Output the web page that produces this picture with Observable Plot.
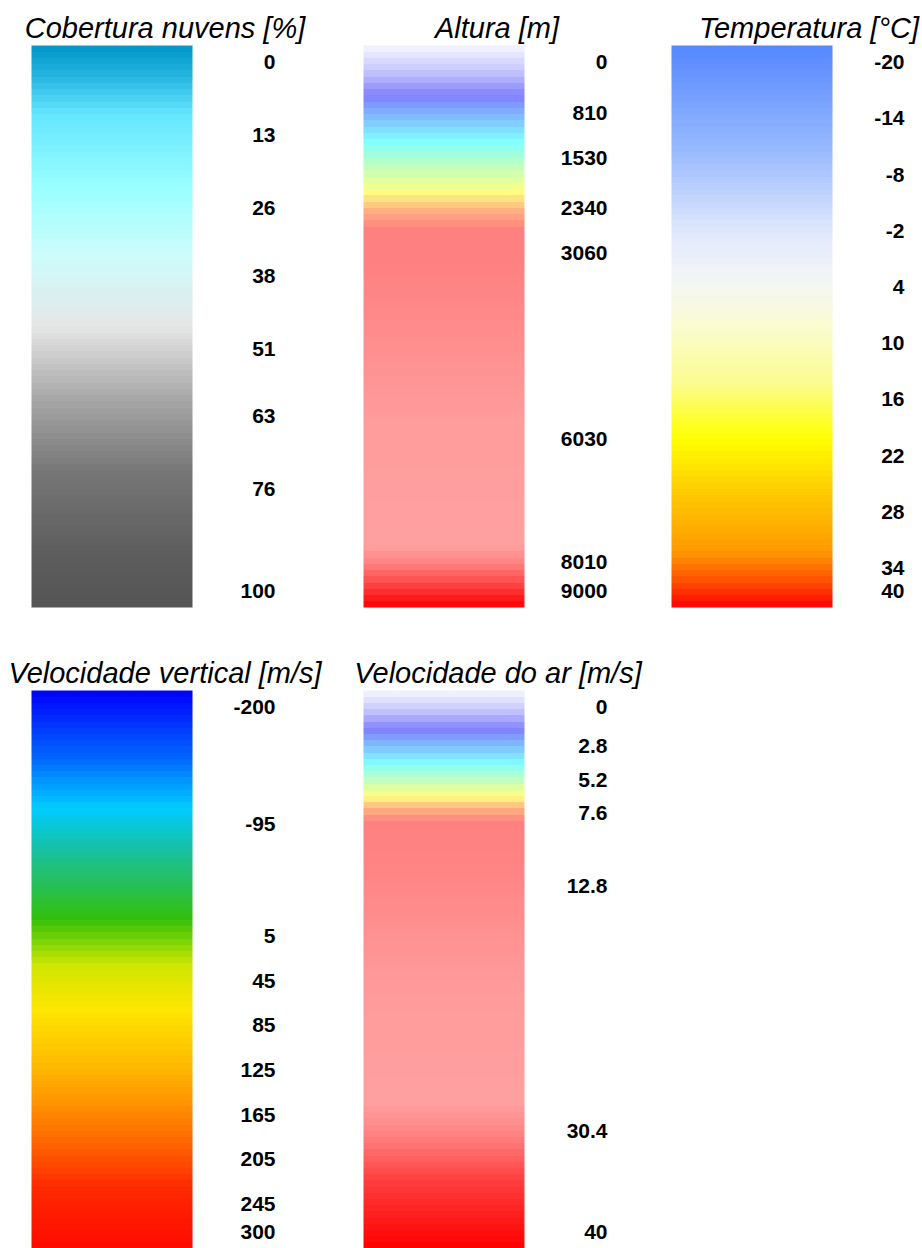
<!DOCTYPE html>
<html><head><meta charset="utf-8">
<script src="https://cdn.jsdelivr.net/npm/d3@7"></script>
<script src="https://cdn.jsdelivr.net/npm/@observablehq/plot@0.6"></script>
<style>
html,body{margin:0;padding:0;background:#fff}
body{width:922px;height:1248px;overflow:hidden;position:relative;font-family:"Liberation Sans",Arial,Helvetica,sans-serif}
.panel{position:absolute}
.panel svg{max-width:none !important;display:block}
.title{position:absolute;font-style:italic;font-size:29px;line-height:29px;white-space:nowrap;color:#000}
</style></head><body>
<script>
// ---------- data ----------
const titles = ["Cobertura nuvens [%]", "Altura [m]", "Temperatura [°C]", "Velocidade vertical [m/s]", "Velocidade do ar [m/s]"];

// Cobertura nuvens [%]
const cloudDomain = [0, 100];
const cloudTicks = [0, 13, 26, 38, 51, 63, 76, 100];
const cloudLabels = ["0", "13", "26", "38", "51", "63", "76", "100"];
const cloudStops = [0, 5, 12, 25, 37, 50, 63, 76, 90, 100];
const cloudColors = ["#0096c8", "#22b2de", "#62e5ff", "#99ffff", "#ccfcfc", "#e6e6e6", "#a6a6a6", "#767676", "#5e5e5e", "#545454"];

// Altura [m]
const altDomain = [0, 9000];
const altTicks = [0, 810, 1530, 2340, 3060, 6030, 8010, 9000];
const altLabels = ["0", "810", "1530", "2340", "3060", "6030", "8010", "9000"];
const altStops = [0, 400, 810, 1170, 1530, 1940, 2340, 2650, 2950, 3500, 6030, 8010, 8300, 8650, 9000];
const altColors = ["#f6f6ff", "#c8c8ff", "#8080ff", "#80c0ff", "#80ffff", "#c0ffc0", "#ffff80", "#ffb080", "#ff8080", "#ff8080", "#ff9c9c", "#ffa0a0", "#ff8080", "#ff4040", "#ff0000"];

// Temperatura [°C]
const tempDomain = [-20, 40];
const tempTicks = [-20, -14, -8, -2, 4, 10, 16, 22, 28, 34, 40];
const tempLabels = ["-20", "-14", "-8", "-2", "4", "10", "16", "22", "28", "34", "40"];
const tempStops = [-20, -10, 0, 5, 10, 16, 22, 28, 34, 37, 40];
const tempColors = ["#5588ff", "#90b4ff", "#e0e8fc", "#f4f6f6", "#fafcd0", "#fcfc90", "#ffff00", "#ffc800", "#ff9a00", "#ff5500", "#ff0000"];

// Velocidade vertical [m/s]
const vvDomain = [-200, 300];
const vvTicks = [-200, -95, 5, 45, 85, 125, 165, 205, 245, 300];
const vvLabels = ["-200", "-95", "5", "45", "85", "125", "165", "205", "245", "300"];
const vvStops = [-200, -140, -95, -50, 5, 45, 85, 125, 165, 205, 245, 300];
const vvColors = ["#0000ff", "#0066ff", "#00ccff", "#1cbf90", "#33c00a", "#cce600", "#ffe600", "#ffc400", "#ff9900", "#ff6600", "#ff2a00", "#ff0a00"];

// Velocidade do ar [m/s]
const arDomain = [0, 40];
const arTicks = [0, 2.8, 5.2, 7.6, 12.8, 30.4, 40];
const arLabels = ["0", "2.8", "5.2", "7.6", "12.8", "30.4", "40"];
const arStops = [0, 1.4, 2.8, 4, 5.2, 6.4, 7.6, 8.5, 9.4, 12.8, 21, 29.5, 32, 35, 40];
const arColors = ["#f6f6ff", "#c8c8ff", "#8080ff", "#80c0ff", "#80ffff", "#c0ffc0", "#ffff80", "#ffb080", "#ff8080", "#ff8484", "#ff9a9a", "#ffa0a0", "#ff8080", "#ff4040", "#ff0000"];

// ---------- layout ----------
const panels = [
  {title: titles[0], domain: cloudDomain, ticks: cloudTicks, labels: cloudLabels, stops: cloudStops, colors: cloudColors, left: 0,   top: 35,  width: 290, barH: 562, labelRight: 275, titleX: 165, titleTop: 14, align: "center"},
  {title: titles[1], domain: altDomain,   ticks: altTicks,   labels: altLabels,   stops: altStops,   colors: altColors,   left: 332, top: 35,  width: 290, barH: 562, labelRight: 275, titleX: 497, titleTop: 14, align: "center"},
  {title: titles[2], domain: tempDomain,  ticks: tempTicks,  labels: tempLabels,  stops: tempStops,  colors: tempColors,  left: 640, top: 35,  width: 282, barH: 562, labelRight: 264, titleX: 919, titleTop: 14, align: "right"},
  {title: titles[3], domain: vvDomain,    ticks: vvTicks,    labels: vvLabels,    stops: vvStops,    colors: vvColors,    left: 0,   top: 680, width: 290, barH: 558, labelRight: 275, titleX: 165, titleTop: 659, align: "center"},
  {title: titles[4], domain: arDomain,    ticks: arTicks,    labels: arLabels,    stops: arStops,    colors: arColors,    left: 332, top: 680, width: 290, barH: 558, labelRight: 275, titleX: 498, titleTop: 659, align: "center"}
];

const M = 10, NB = 90;
const labelFont = "'Liberation Sans', Arial, sans-serif";

for (const p of panels) {
  const H = p.barH + 2 * M;
  const n = p.ticks.length;
  const inner = p.ticks.slice(0, n - 1).map((v, i) => ({v, label: p.labels[i]}));
  const last = [{label: p.labels[n - 1]}];
  const chart = Plot.plot({
    width: p.width,
    height: H,
    marginTop: M,
    marginBottom: M,
    marginLeft: 0,
    marginRight: p.width - p.labelRight,
    x: {axis: null, domain: [0, 1], range: [31, 192]},
    y: {axis: null, domain: p.domain, reverse: true},
    color: {type: "linear", domain: p.stops, range: p.colors, interpolate: "rgb"},
    style: {background: "transparent", overflow: "visible"},
    marks: [
      Plot.raster({
        fill: (x, y) => y,
        x1: 0, x2: 1, y1: p.domain[0], y2: p.domain[1],
        width: 1, height: NB,
        imageRendering: "pixelated"
      }),
      Plot.text(inner, {
        y: "v", text: "label", frameAnchor: "right", textAnchor: "end",
        dy: 17, fontSize: 21, fontWeight: "bold", fill: "#000", fontFamily: labelFont
      }),
      Plot.text(last, {
        text: "label", frameAnchor: "bottom-right", textAnchor: "end",
        dy: -10, fontSize: 21, fontWeight: "bold", fill: "#000", fontFamily: labelFont
      })
    ]
  });
  const wrap = document.createElement("div");
  wrap.className = "panel";
  wrap.style.left = p.left + "px";
  wrap.style.top = p.top + "px";
  wrap.style.width = p.width + "px";
  wrap.appendChild(chart);
  document.body.appendChild(wrap);

  const t = document.createElement("div");
  t.className = "title";
  t.textContent = p.title;
  t.style.top = p.titleTop + "px";
  if (p.align === "center") {
    t.style.left = p.titleX + "px";
    t.style.transform = "translateX(-50%)";
  } else {
    t.style.right = (922 - p.titleX) + "px";
  }
  document.body.appendChild(t);
}
</script>
</body></html>
